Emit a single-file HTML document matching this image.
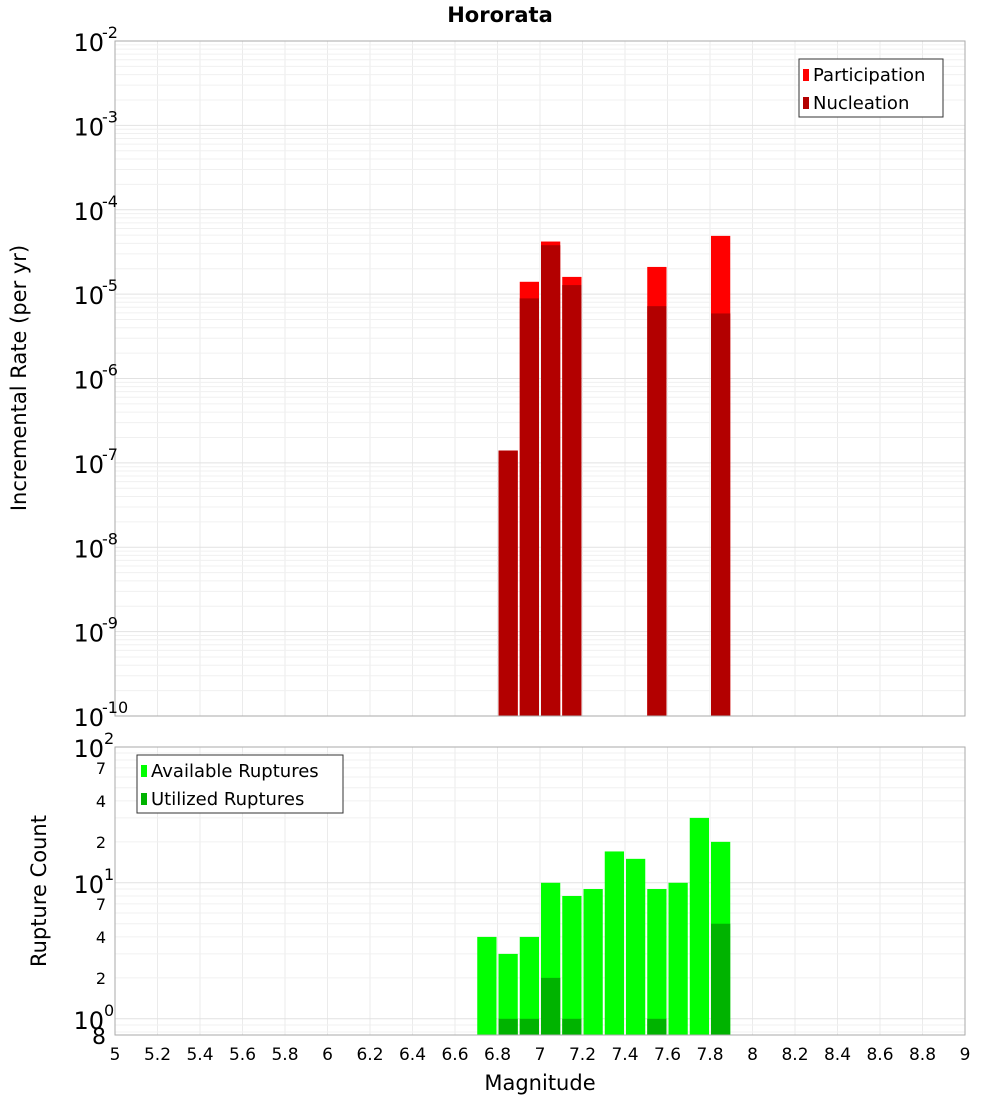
<!DOCTYPE html>
<html><head><meta charset="utf-8"><style>
body{margin:0;background:#fff;}
svg{display:block;font-family:"DejaVu Sans","Liberation Sans",sans-serif;}
</style></head><body>
<svg id="c" width="1000" height="1100" viewBox="0 0 1000 1100"></svg>
<script>
const mags=[6.75,6.85,6.95,7.05,7.15,7.25,7.35,7.45,7.55,7.65,7.75,7.85];
const partMags=[6.85,6.95,7.05,7.15,7.55,7.85];
const participation=[1.4e-7,1.4e-5,4.2e-5,1.6e-5,2.1e-5,4.9e-5];
const nucleation=[1.4e-7,8.9e-6,3.8e-5,1.28e-5,7.2e-6,5.9e-6];
const available=[4,3,4,10,8,9,17,15,9,10,30,20];
const utilMags=[6.85,6.95,7.05,7.15,7.55,7.85];
const utilized=[1,1,2,1,1,5];
const xTicks=["5","5.2","5.4","5.6","5.8","6","6.2","6.4","6.6","6.8","7","7.2","7.4","7.6","7.8","8","8.2","8.4","8.6","8.8","9"];
const topExps=[-10,-9,-8,-7,-6,-5,-4,-3,-2];
const botMinor=[["7",70],["4",40],["2",20],["7",7],["4",4],["2",2],["8",0.8]];

const svg=document.getElementById('c');const NS='http://www.w3.org/2000/svg';
function el(t,a,p){const e=document.createElementNS(NS,t);for(const k in a)e.setAttribute(k,a[k]);(p||svg).appendChild(e);return e;}
const L=115,R=965;
const X=m=>L+(m-5)/4*(R-L);
const T1=41,B1=716,B2T=747,B2B=1035;
const Y1=v=>B1-(Math.log10(v)+10)*(B1-T1)/8;
const D2=136;
const Y2=v=>B2B-(Math.log10(v)-Math.log10(0.76))*D2;

// backgrounds
el('rect',{x:L,y:T1,width:R-L,height:B1-T1,fill:'#fff',stroke:'none',});
el('rect',{x:L,y:B2T,width:R-L,height:B2B-B2T,fill:'#fff',});
// grids
const g=el('g',{stroke:'#ebebeb','stroke-width':1});
for(let i=0;i<xTicks.length;i++){const x=X(5+i*0.2);
 el('line',{x1:x,x2:x,y1:T1,y2:B1},g);el('line',{x1:x,x2:x,y1:B2T,y2:B2B},g);}
for(let e=-10;e<-2;e++)for(let k=1;k<10;k++){const y=Y1(k*Math.pow(10,e));el('line',{x1:L,x2:R,y1:y,y2:y,stroke:k==1?'#e2e2e2':'#f0f0f0'},g);}
for(let e=-1;e<2;e++)for(let k=1;k<10;k++){const v=k*Math.pow(10,e);const y=Y2(v);if(y>B2B||y<B2T)continue;el('line',{x1:L,x2:R,y1:y,y2:y,stroke:k==1?'#e2e2e2':'#f0f0f0'},g);}
const bw=(X(5.1)-X(5))-2;
// top bars
partMags.forEach((m,i)=>{const b=el('rect',{x:X(m)-bw/2,y:Y1(participation[i]),width:bw,height:B1-Y1(participation[i]),fill:'#ff0000'});
});
partMags.forEach((m,i)=>{const b=el('rect',{x:X(m)-bw/2,y:Y1(nucleation[i]),width:bw,height:B1-Y1(nucleation[i]),fill:'#b30000'});
});
// bottom bars
mags.forEach((m,i)=>{const b=el('rect',{x:X(m)-bw/2,y:Y2(available[i]),width:bw,height:B2B-Y2(available[i]),fill:'#00ff00'});
});
utilMags.forEach((m,i)=>{const b=el('rect',{x:X(m)-bw/2,y:Y2(utilized[i]),width:bw,height:B2B-Y2(utilized[i]),fill:'#00b300'});
});
// borders
el('rect',{x:L,y:T1,width:R-L,height:B1-T1,fill:'none',stroke:'#aaa',});
el('rect',{x:L,y:B2T,width:R-L,height:B2B-B2T,fill:'none',stroke:'#aaa',});
// title
el('text',{x:500,y:22,'text-anchor':'middle','font-size':21,'font-weight':'bold',}).textContent='Hororata';
// top y ticks
topExps.forEach(e=>{const y=Y1(Math.pow(10,e));const t=el('text',{x:104,y:y+10,'text-anchor':'end','font-size':24});

t.textContent='10';const s=el('tspan',{x:102,y:y-3,'font-size':16,'text-anchor':'start'},t);s.textContent=String(e);});
// bottom y ticks
[[100,'2'],[10,'1'],[1,'0']].forEach(([v,e])=>{const y=Y2(v);const t=el('text',{x:104,y:y+10,'text-anchor':'end','font-size':24});

t.textContent='10';const s=el('tspan',{x:104,y:y-3,'font-size':16,'text-anchor':'start'},t);s.textContent=e;});
botMinor.forEach(([lab,v])=>{const y=Y2(v);const big=v==0.8;const t=el('text',{x:106,y:y+(big?12:6),'text-anchor':'end','font-size':big?22:16});
t.textContent=lab;});
// x ticks
xTicks.forEach((s,i)=>{const t=el('text',{x:X(5+i*0.2),y:1060,'text-anchor':'middle','font-size':17});
t.textContent=s;});
el('text',{x:540,y:1090,'text-anchor':'middle','font-size':21,}).textContent='Magnitude';
el('text',{x:0,y:0,transform:'translate(26,378) rotate(-90)','text-anchor':'middle','font-size':21,}).textContent='Incremental Rate (per yr)';
el('text',{x:0,y:0,transform:'translate(46,891) rotate(-90)','text-anchor':'middle','font-size':21,}).textContent='Rupture Count';
// legends
function legend(x,y,w,items,name){const gg=el('g',{});
el('rect',{x:x,y:y,width:w,height:58,fill:'#fff',stroke:'#333'},gg);
items.forEach((it,i)=>{el('rect',{x:x+4,y:y+10+i*28,width:6,height:12,fill:it[1]},gg);
const t=el('text',{x:x+14,y:y+22+i*28,'font-size':18},gg);t.textContent=it[0];});}
legend(799,59,144,[['Participation','#ff0000'],['Nucleation','#b30000']],'top-legend');
legend(137,755,206,[['Available Ruptures','#00ff00'],['Utilized Ruptures','#00b300']],'bottom-legend');
</script>
</body></html>
